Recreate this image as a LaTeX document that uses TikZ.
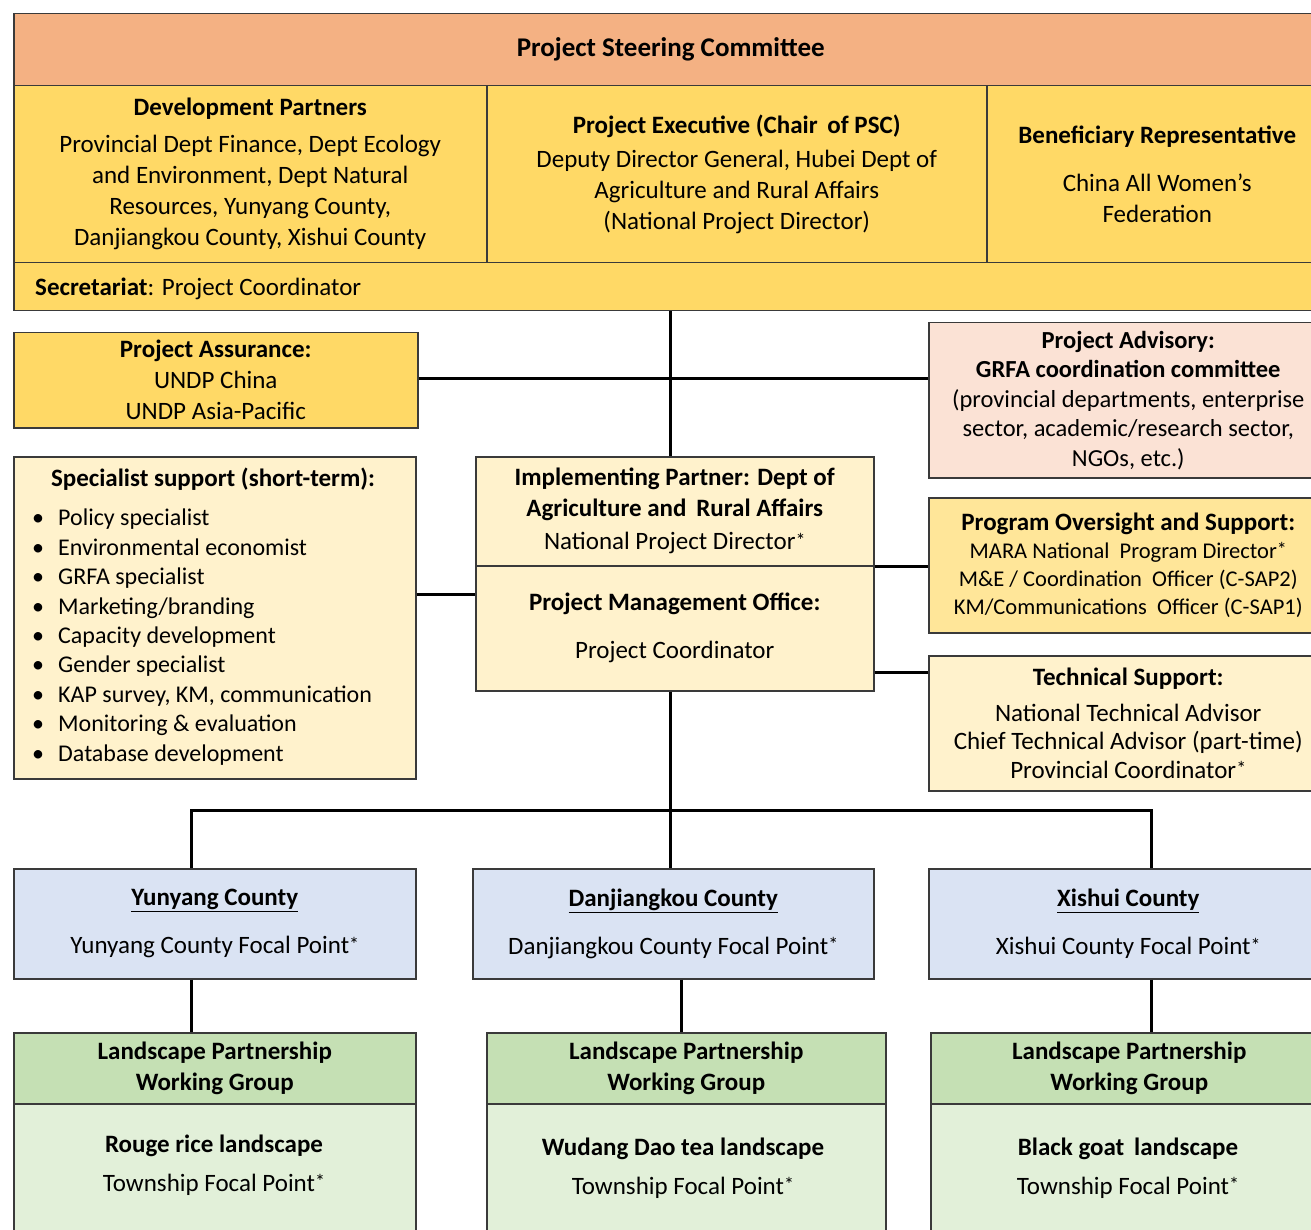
\documentclass[tikz,border=0pt]{standalone}
\usepackage{fontspec}
\setmainfont{Carlito}
\usetikzlibrary{calc}
\definecolor{cSalmon}{HTML}{F4B183}
\definecolor{cGold}{HTML}{FFD966}
\definecolor{cPale}{HTML}{FFF2CC}
\definecolor{cProg}{HTML}{FFE699}
\definecolor{cPink}{HTML}{FBE2D5}
\definecolor{cBlue}{HTML}{DAE3F3}
\definecolor{cGreenH}{HTML}{C5E0B4}
\definecolor{cGreenB}{HTML}{E2F0D9}
\definecolor{bordc}{HTML}{3A3A3A}
\tikzset{
  box/.style={draw=bordc, line width=1.5pt, inner sep=0pt, align=center,
    font=\fontsize{25}{31}\selectfont},
  txt/.style={inner sep=0pt, align=center, font=\fontsize{25}{31}\selectfont},
  conn/.style={draw=black, line width=3pt},
}
\newcommand\bx[7]{%
  \node[box, #6, minimum width={#4-#2}, minimum height={#5-#3}, anchor=north west] (#1) at (#2,#3) {#7};}
\newcommand\fpast{\raisebox{2.5pt}{\fontsize{20}{20}\selectfont *}}
\begin{document}
\begin{tikzpicture}[x=1pt,y=-1pt]
\useasboundingbox (0,0) rectangle (1311,1230);
\clip (0,0) rectangle (1311,1230);
\fill[white] (0,0) rectangle (1311,1230);

% ---------- top block ----------
\bx{psc}{13}{13}{1327}{85}{fill=cSalmon, font=\fontsize{27}{33}\selectfont\bfseries}{Project Steering Committee}
\bx{dev}{13}{85}{486}{262}{fill=cGold}{\textbf{Development Partners}\\[6pt] Provincial Dept Finance, Dept Ecology\\ and Environment, Dept Natural\\ Resources, Yunyang County,\\ Danjiangkou County, Xishui County}
\bx{exec}{486}{85}{986}{262}{fill=cGold}{\textbf{Project Executive (Chair\ \,of PSC)}\\[3pt] Deputy Director General, Hubei Dept of\\ Agriculture and Rural Affairs\\ (National Project Director)}
\bx{ben}{986}{85}{1327}{262}{fill=cGold}{\textbf{Beneficiary Representative}\\[17pt] China All Women’s\\ Federation}
\bx{sec}{13}{262}{1327}{310}{fill=cGold}{}
\node[txt, anchor=west] (sectxt) at ([xshift=22pt,yshift=-2pt]sec.west) {\textbf{Secretariat}: Project Coordinator};

% ---------- middle ----------
\bx{assur}{13}{332}{417}{427}{fill=cGold}{\textbf{Project Assurance:}\\ UNDP China\\ UNDP Asia-Pacific}
\bx{adv}{928}{322}{1327}{477}{fill=cPink, font=\fontsize{24.5}{29.5}\selectfont}{\textbf{Project Advisory:}\\ \textbf{GRFA coordination committee}\\ (provincial departments, enterprise\\ sector, academic/research sector,\\ NGOs, etc.)}
\bx{spec}{13}{456}{415}{778}{fill=cPale}{}
\node[txt] (spectitle) at (213,479) {\textbf{Specialist support (short-term):}};
\node[txt, anchor=west, align=left, font=\fontsize{24}{29.4}\selectfont] (speclist) at (32,637) {%
\makebox[26pt][l]{•}Policy specialist\\
\makebox[26pt][l]{•}Environmental economist\\
\makebox[26pt][l]{•}GRFA specialist\\
\makebox[26pt][l]{•}Marketing/branding\\
\makebox[26pt][l]{•}Capacity development\\
\makebox[26pt][l]{•}Gender specialist\\
\makebox[26pt][l]{•}KAP survey, KM, communication\\
\makebox[26pt][l]{•}Monitoring \& evaluation\\
\makebox[26pt][l]{•}Database development};

\bx{iptop}{475}{456}{873}{565}{fill=cPale}{\textbf{Implementing Partner: Dept of}\\ \textbf{Agriculture and\ \,Rural Affairs}\\[2pt] National Project Director\fpast}
\bx{pmo}{475}{565}{873}{690}{fill=cPale}{\textbf{Project Management Office:}\\[17pt] Project Coordinator}
\bx{prog}{928}{497}{1327}{632}{fill=cProg, font=\fontsize{22.5}{27.7}\selectfont}{{\fontsize{25}{27.7}\selectfont\textbf{Program Oversight and Support:}}\\ MARA National\ \ Program\ Director\fpast\\ M\&E / Coordination\ \ Officer (C-SAP2)\\ KM/Communications\ \ Officer (C-SAP1)}
\bx{tech}{928}{655}{1327}{790}{fill=cPale, font=\fontsize{25}{28.7}\selectfont}{\textbf{Technical Support:}\\[7pt] National Technical Advisor\\ Chief Technical Advisor (part-time)\\ Provincial Coordinator\fpast}

% ---------- counties ----------
\bx{yun}{13}{868}{415}{978}{fill=cBlue}{\underline{\textbf{Yunyang County}}\\[17pt] Yunyang County Focal Point\fpast}
\bx{dan}{472}{868}{873}{978}{fill=cBlue}{\underline{\textbf{Danjiangkou County}}\\[17pt] Danjiangkou County Focal Point\fpast}
\bx{xis}{928}{868}{1327}{978}{fill=cBlue}{\underline{\textbf{Xishui County}}\\[17pt] Xishui County Focal Point\fpast}

% ---------- landscapes ----------
\bx{lyh}{13}{1032}{415}{1103}{fill=cGreenH}{\textbf{Landscape Partnership}\\ \textbf{Working Group}}
\bx{lyb}{13}{1103}{415}{1260}{fill=cGreenB}{}
\node[txt] (lyt) at (214,1165) {\textbf{Rouge rice landscape}\\[8pt] Township Focal Point\fpast};
\bx{lmh}{486}{1032}{885}{1103}{fill=cGreenH}{\textbf{Landscape Partnership}\\ \textbf{Working Group}}
\bx{lmb}{486}{1103}{885}{1260}{fill=cGreenB}{}
\node[txt] (lmt) at (683,1168) {\textbf{Wudang Dao tea landscape}\\[8pt] Township Focal Point\fpast};
\bx{lxh}{930}{1032}{1327}{1103}{fill=cGreenH}{\textbf{Landscape Partnership}\\ \textbf{Working Group}}
\bx{lxb}{930}{1103}{1327}{1260}{fill=cGreenB}{}
\node[txt] (lxt) at (1128,1168) {\textbf{Black goat\ \,landscape}\\[8pt] Township Focal Point\fpast};

% ---------- connectors ----------
\coordinate (topc) at ([xshift=-4pt]iptop.north);
\coordinate (botc) at ([xshift=-4pt]pmo.south);
\coordinate (bus) at (botc |- 0,810);
\draw[conn] (topc |- sec.south) -- (topc);
\draw[conn] (assur.east |- 0,378) -- (adv.west |- 0,378);
\draw[conn] (spec.east |- 0,594) -- (iptop.west |- 0,594);
\draw[conn] (iptop.south east) -- (iptop.south east -| prog.west);
\draw[conn] (pmo.east |- 0,672) -- (tech.west |- 0,672);
\draw[conn] (botc) -- (bus);
\draw[conn] ([xshift=-23pt]yun.north) |- (bus) -| ([xshift=23pt]xis.north);
\draw[conn] (bus) -- (dan.north -| bus);
\draw[conn] ([xshift=-23pt]yun.south) -- ([xshift=-23pt]yun.south |- lyh.north);
\draw[conn] ([xshift=8pt]dan.south) -- ([xshift=8pt]dan.south |- lmh.north);
\draw[conn] ([xshift=23pt]xis.south) -- ([xshift=23pt]xis.south |- lxh.north);
\end{tikzpicture}
\end{document}
